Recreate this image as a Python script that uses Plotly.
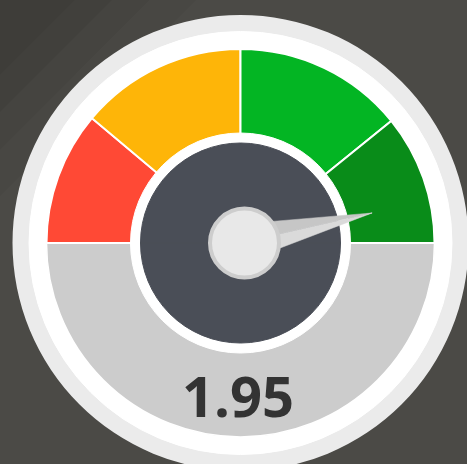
import plotly.graph_objects as go

# gauge data
VALUE = 1.95
GAUGE_MAX = 2.1
BAND_EDGES = [0.0, 0.467, 1.05, 1.645, 2.1]
BAND_COLORS = ["#ff4935", "#feb508", "#03b523", "#098c19"]

W, H = 467, 464
CX, CY = 240.5, 243.0          # gauge centre in px (from top)
R_POLAR = H - CY               # polar radius in px, limited by bottom edge
R_OUTER_RING = 228
R_WHITE = 211.5
R_BAND = 194
R_INNER_WHITE = 110
R_DIAL = 100
NEEDLE_LEN = 135
NEEDLE_HALF = 19


def to_theta(v):
    return v / GAUGE_MAX * 180.0


fig = go.Figure()


def disk(r, color):
    fig.add_trace(go.Barpolar(
        r=[r, r], theta=[90, 270], width=[180, 180],
        marker=dict(color=color, line=dict(color=color, width=1)),
        hoverinfo="skip", showlegend=False,
    ))


disk(R_WHITE, "#ffffff")

# lower grey half
fig.add_trace(go.Barpolar(
    r=[R_BAND], theta=[270], width=[180],
    marker=dict(color="#cccccc", line=dict(color="#ffffff", width=1.5)),
    hoverinfo="skip", showlegend=False,
))

# coloured bands
lo, hi = BAND_EDGES[:-1], BAND_EDGES[1:]
fig.add_trace(go.Barpolar(
    r=[R_BAND] * len(BAND_COLORS),
    theta=[to_theta((a + b) / 2) for a, b in zip(lo, hi)],
    width=[to_theta(b - a) for a, b in zip(lo, hi)],
    marker=dict(color=BAND_COLORS, line=dict(color="#ffffff", width=2)),
    hoverinfo="skip", showlegend=False,
))

disk(R_INNER_WHITE, "#ffffff")
disk(R_DIAL, "#4a4e57")

# needle, two tones
tv = to_theta(VALUE)
fig.add_trace(go.Scatterpolar(
    r=[NEEDLE_HALF, NEEDLE_LEN, 0, NEEDLE_HALF], theta=[tv - 90, tv, tv, tv - 90],
    mode="lines", fill="toself", fillcolor="#c6c6c6",
    line=dict(color="#c6c6c6", width=0.5),
    hoverinfo="skip", showlegend=False,
))
fig.add_trace(go.Scatterpolar(
    r=[0, NEEDLE_LEN, NEEDLE_HALF, 0], theta=[tv, tv, tv + 90, tv],
    mode="lines", fill="toself", fillcolor="#dadada",
    line=dict(color="#dadada", width=0.5),
    hoverinfo="skip", showlegend=False,
))

# hub
fig.add_trace(go.Scatterpolar(
    r=[4], theta=[180], mode="markers",
    marker=dict(size=69, color="#e8e8e8", line=dict(color="#cdcdcd", width=4)),
    hoverinfo="skip", showlegend=False,
))

# background shading in the top-left corner + outer light ring
shapes = []
for d, a in [(0.42, 0.03), (0.32, 0.04), (0.24, 0.05), (0.16, 0.04)]:
    shapes.append(dict(
        type="path", xref="paper", yref="paper", layer="below",
        path=f"M 0 1 L {d} 1 L 0 {1 - d * W / H} Z",
        fillcolor=f"rgba(0,0,0,{a})", line=dict(width=0),
    ))
shapes.append(dict(
    type="circle", xref="paper", yref="paper", layer="below",
    x0=(CX - R_OUTER_RING) / W, x1=(CX + R_OUTER_RING) / W,
    y0=(H - CY - R_OUTER_RING) / H, y1=(H - CY + R_OUTER_RING) / H,
    fillcolor="#ebebeb", line=dict(width=0),
))

fig.update_layout(
    width=W, height=H,
    margin=dict(l=0, r=0, t=0, b=0),
    paper_bgcolor="#4b4a46",
    plot_bgcolor="rgba(0,0,0,0)",
    shapes=shapes,
    polar=dict(
        domain=dict(x=[(CX - R_POLAR) / W, (CX + R_POLAR) / W],
                    y=[0, 2 * R_POLAR / H]),
        bgcolor="rgba(0,0,0,0)",
        barmode="overlay",
        radialaxis=dict(range=[0, R_POLAR], visible=False),
        angularaxis=dict(rotation=180, direction="clockwise", visible=False),
    ),
    annotations=[dict(
        text=f"<b>{VALUE:.2f}</b>", x=238 / W, y=(H - 395) / H,
        xref="paper", yref="paper", xanchor="center", yanchor="middle",
        showarrow=False,
        font=dict(family="Open Sans", size=56, color="#333333"),
    )],
)

fig.write_html(
    "out.html",
    config={"displayModeBar": False},
    post_script="document.body.style.margin='0';",
)
